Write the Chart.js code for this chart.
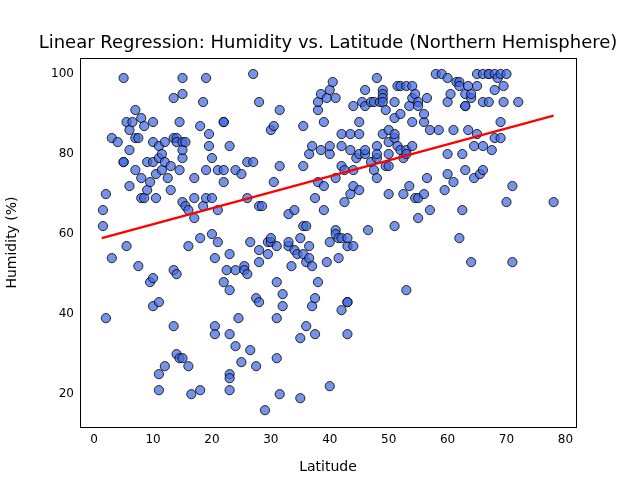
<!DOCTYPE html>
<html>
<head>
<meta charset="utf-8">
<script src="https://cdn.jsdelivr.net/npm/chart.js@4/dist/chart.umd.min.js"></script>
<style>
  html, body { margin: 0; padding: 0; background: #fff; }
  #wrap { width: 640px; height: 480px; }
</style>
</head>
<body>
<div id="wrap"><canvas id="chart"></canvas></div>
<script>
// Latitude / humidity pairs
const latitude = [
  1.5,1.5,2,2,3,3,4,5,5,5,5.5,5.5,6,6,6,6.5,7,7,7,7.5,7.5,8,8,8,8.5,8.5,9,9,9.5,9.5,10,10,10,10,10,
  10.5,10.5,11,11,11,11,11,11.5,11.5,12,12,12,12.5,13,13,13.5,13.5,13.5,13.5,14,14,14,14,14.5,14.5,14.5,15,15,15,15,15,15,15,15.5,15.5,16,16,16,16.5,17,17,17,18,18,18,18.5,18.5,19,19,19,19.5,19.5,20,20,20,20.5,20.5,20.5,21,21,21,22,22,22,22,22,22.5,23,23,23,23,23,23,23,
  24,24,24,24.5,25,25,25.5,25.5,26,26,26,26.5,26.5,27,27,27.5,27.5,28,28,28,28,28,28.5,29,29.5,29.5,30,30,30,30.5,30.5,31,31,31,31,31.5,31.5,31.5,32,32,33,33,33,33.5,34,34,34.5,35,35,35,35.5,35.5,35.5,35.5,36,36,36,36.5,36.5,36.5,37,37,37,37.5,37.5,37.5,38,38,38,38,38.5,38.5,39,39,39,39.5,39.5,40,40,40,40,40,
  40.5,41,41,41,41,41.5,41.5,42,42,42,42,42,42.5,42.5,43,43,43,43,43,43.5,43.5,43.5,44,44,44,44,44.5,45,45,45,45,45.5,46,46,46,46,46.5,47,47,47.5,47.5,48,48,48,48,48,48.5,49,49,49,49,49,49.5,49.5,50,50,50,50,50,51,51,51,51,51,51.5,51.5,52,52,52,52.5,52.5,53,53,53,53,53.5,53.5,54,54,54,54,54.5,54.5,55,55,55,55,
  56,56,56,56.5,56.5,57,57,58,58.5,59,59.5,60,60,60,60,60.5,61,61,61.5,62,62,62,62.5,62.5,63,63,63,63,63.5,63.5,64,64,64,64.5,64.5,65,65,65,65.5,66,66,66,66,67,67,67,67.5,68,68,68,68.5,69,69,69,69.5,69.5,70,70,71,71,72,78
];
const humidity = [
  66,62,70,39,54,84,83,78,78,99,88,57,86,72,81,88,84,91,76,52,84,69,74,89,87,69,71,78,73,48,42,49,88,78,83,
  75,69,79,82,25,21,43,76,80,27,83,78,74,77,71,84,94,37,51,84,83,50,30,29,88,76,29,68,79,83,81,95,99,67,83,27,66,57,20,74,64,69,87,59,21,93,67,99,76,69,82,85,79,60,69,54,37,35,58,76,66,88,88,73,76,48,51,55,82,25,24,21,35,46,
  76,51,32,39,75,28,52,51,69,78,50,58,31,78,100,44,27,93,56,53,43,67,67,16,55,58,86,58,59,73,87,48,39,57,29,91,77,20,45,42,57,65,58,52,56,66,55,59,34,19,87,77,62,55,37,53,62,57,54,80,42,82,52,44,69,35,73,48,91,93,95,81,88,72,66,94,53,58,96,80,82,22,
  98,94,61,74,60,59,54,85,77,82,59,41,68,76,43,43,35,57,59,85,81,70,76,72,57,92,79,71,80,88,85,93,96,80,81,92,61,93,78,76,93,99,82,79,80,74,93,85,96,95,94,93,77,91,77,70,86,83,80,62,84,85,89,93,97,82,81,97,90,70,79,46,97,81,80,72,92,94,97,82,88,95,69,64,93,92,69,
  70,88,90,94,74,66,86,100,86,100,71,93,80,75,99,95,73,86,98,59,98,97,66,80,92,95,92,76,86,97,94,95,53,82,74,97,85,100,75,100,76,93,82,100,93,100,81,84,96,100,99,88,84,100,93,97,68,100,72,53,93,68
];
// regression line end points
const lineLat = [1.3, 78];
const lineHum = [59, 89.6];

const points = latitude.map((x, i) => ({ x: x, y: humidity[i] }));
const fit = lineLat.map((x, i) => ({ x: x, y: lineHum[i] }));

const font = { family: "DejaVu Sans", size: 12 };

const framePlugin = {
  id: "frame",
  afterDraw(chart) {
    const { ctx, chartArea: a } = chart;
    ctx.save();
    ctx.strokeStyle = "#000";
    ctx.lineWidth = 1;
    ctx.strokeRect(a.left + 0.5, a.top + 0.5, a.right - a.left, a.bottom - a.top);
    ctx.fillStyle = "#000";
    ctx.font = "18px 'DejaVu Sans'";
    ctx.textAlign = "center";
    ctx.textBaseline = "middle";
    ctx.fillText("Linear Regression: Humidity vs. Latitude (Northern Hemisphere)", (a.left + a.right) / 2 + 0, 43);
    ctx.restore();
  }
};

new Chart(document.getElementById("chart"), {
  type: "scatter",
  data: {
    datasets: [
      {
        data: fit,
        type: "line",
        borderColor: "#ff0000",
        borderWidth: 2.2,
        pointRadius: 0,
        fill: false,
        order: 0,
      },
      {
        data: points,
        backgroundColor: "rgba(65, 105, 225, 0.72)",
        borderColor: "rgba(0, 0, 0, 0.8)",
        borderWidth: 1,
        pointRadius: 4.6,
        order: 1,
      },
    ],
  },
  options: {
    responsive: true,
    maintainAspectRatio: false,
    animation: false,
    layout: { padding: { top: 58, right: 64, left: 0, bottom: 0 } },
    plugins: { legend: { display: false }, tooltip: { enabled: false } },
    scales: {
      x: {
        type: "linear",
        min: -2.4,
        max: 81.8,
        afterBuildTicks: (s) => { s.ticks = [0,10,20,30,40,50,60,70,80].map(v => ({ value: v })); },
        afterFit: (s) => { s.height = 53; },
        grid: { display: false, drawTicks: true, tickLength: 4 },
        border: { display: false },
        ticks: { color: "#000", font: font, padding: 2 },
        title: { display: true, text: "Latitude", color: "#000", font: { family: "DejaVu Sans", size: 14 }, padding: { top: 2 } },
      },
      y: {
        type: "linear",
        min: 11.8,
        max: 104,
        afterBuildTicks: (s) => { s.ticks = [20,40,60,80,100].map(v => ({ value: v })); },
        afterFit: (s) => { s.width = 80; },
        grid: { display: false, drawTicks: true, tickLength: 4 },
        border: { display: false },
        ticks: { color: "#000", font: font, padding: 2 },
        title: { display: true, text: "Humidity (%)", color: "#000", font: { family: "DejaVu Sans", size: 14 }, padding: { bottom: 4 } },
      },
    },
  },
  plugins: [framePlugin],
});
</script>
</body>
</html>
